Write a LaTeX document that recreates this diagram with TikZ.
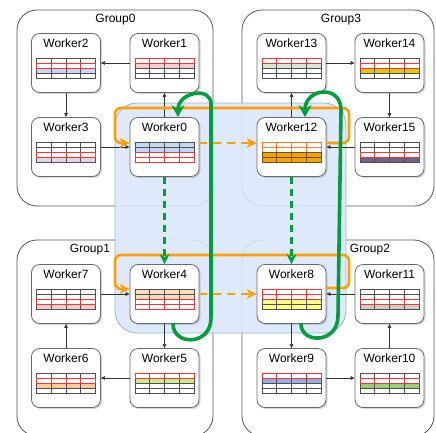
\documentclass[tikz,border=0pt]{standalone}
\usepackage{fontspec}
\setmainfont{Liberation Sans}
\usetikzlibrary{arrows.meta,shadows,calc}
\definecolor{grpline}{RGB}{85,85,85}
\definecolor{wline}{RGB}{105,105,105}
\definecolor{linkc}{RGB}{50,50,50}
\definecolor{tline}{RGB}{80,80,80}
\definecolor{tred}{RGB}{255,51,51}
\definecolor{orng}{RGB}{255,160,0}
\definecolor{grn}{RGB}{0,158,60}
\definecolor{hubfill}{RGB}{218,232,252}
\definecolor{hubline}{RGB}{150,180,225}
\definecolor{cblue}{RGB}{198,217,243}
\definecolor{cpink}{RGB}{248,206,204}
\definecolor{clilac}{RGB}{225,213,231}
\definecolor{cpeach}{RGB}{251,222,193}
\definecolor{clime}{RGB}{205,235,139}
\definecolor{capricot}{RGB}{255,204,153}
\definecolor{cyellow}{RGB}{255,255,136}
\definecolor{cblue9}{RGB}{143,178,230}
\definecolor{cgreen10}{RGB}{151,208,119}
\definecolor{cgray11}{RGB}{204,204,204}
\definecolor{cgreen13}{RGB}{213,232,212}
\definecolor{cyellow14}{RGB}{227,200,0}
\definecolor{cpurple15}{RGB}{118,96,138}
\definecolor{corange12}{RGB}{240,163,10}
\definecolor{corangeline}{RGB}{120,80,0}
\definecolor{corangeout}{RGB}{255,120,50}
\tikzset{
  group/.style={draw=grpline, rounded corners=20pt, line width=0.8pt},
  gtitle/.style={inner sep=0pt, font=\fontsize{12}{14}\selectfont},
  hubregion/.style={draw=hubline, fill=hubfill, fill opacity=0.9, rounded corners=22pt, line width=0.8pt},
  worker/.style={draw=wline, fill=white, rounded corners=8pt, minimum width=69pt, minimum height=59pt, line width=0.8pt,
    drop shadow={shadow xshift=1.6pt, shadow yshift=-1.6pt, opacity=0.3}},
  wtitle/.style={inner sep=0pt, font=\fontsize{12}{14}\selectfont},
  link/.style={draw=linkc, line width=0.6pt, -{Triangle[length=4pt,width=3.5pt]}},
  oloop/.style={draw=orng, line width=2.6pt, rounded corners=6pt, -{Stealth[length=10pt,width=10pt,inset=3pt]}},
  odash/.style={draw=orng, line width=2.6pt, dash pattern=on 8pt off 6pt, -{Stealth[length=10pt,width=10pt,inset=3pt]}},
  gdash/.style={draw=grn, line width=2.8pt, dash pattern=on 7pt off 5pt, -{Stealth[length=10pt,width=10pt,inset=3pt]}},
  gloop/.style={draw=grn, line width=3.6pt, -{Stealth[length=12pt,width=13pt,inset=4pt]}},
}
\newcommand\mkworker[3]{%
  \node[worker] (#1) at (#2) {};
  \node[wtitle] (#1t) at ([yshift=-10.5pt]#1.north) {#3};
}
\newcommand\trow[4]{%
  \draw[fill=#3, draw=#4, line width=0.6pt] ($(#1.north)+(-29.5,{20+5*#2})$) coordinate (tr) rectangle ++(59,5);
  \foreach \k in {1,2,3}{\draw[draw=#4, line width=0.6pt] ($(tr)+({\k*14.75},0)$) -- ++(0,5);}%
}
\begin{document}
\begin{tikzpicture}[x=1pt,y=-1pt]
\useasboundingbox (0,0) rectangle (436,432);
\clip (0,0) rectangle (436,432);
% groups
\node[group, minimum width=196pt, minimum height=196pt] (g0) at (115,108) {};
\node[group, minimum width=192pt, minimum height=196pt] (g3) at (338,108) {};
\node[group, minimum width=196pt, minimum height=196pt] (g1) at (115,338) {};
\node[group, minimum width=192pt, minimum height=196pt] (g2) at (338,338) {};
\node[gtitle] (g0t) at (115.5,20) {Group0};
\node[gtitle] (g3t) at (341,20) {Group3};
\node[gtitle] (g1t) at (90,249.5) {Group1};
\node[gtitle] (g2t) at (370,249.5) {Group2};
% central region
\node[hubregion, minimum width=231pt, minimum height=230pt] (hub) at (230.5,218) {};
% workers
\mkworker{w2}{66,63}{Worker2}
\mkworker{w1}{164.5,63}{Worker1}
\mkworker{w3}{66,147}{Worker3}
\mkworker{w0}{164.5,147}{Worker0}
\mkworker{w13}{291.5,63}{Worker13}
\mkworker{w14}{389.5,63}{Worker14}
\mkworker{w12}{291.5,147}{Worker12}
\mkworker{w15}{389.5,147}{Worker15}
\mkworker{w7}{66,294}{Worker7}
\mkworker{w4}{164.5,294}{Worker4}
\mkworker{w6}{66,378}{Worker6}
\mkworker{w5}{164.5,378}{Worker5}
\mkworker{w8}{291.5,294}{Worker8}
\mkworker{w11}{389.5,294}{Worker11}
\mkworker{w9}{291.5,378}{Worker9}
\mkworker{w10}{389.5,378}{Worker10}
% tables
\trow{w0}{1}{cblue}{tline}\trow{w0}{2}{cblue}{tline}\trow{w0}{3}{white}{tred}\trow{w0}{4}{white}{tred}
\trow{w1}{2}{cpink}{tline}\trow{w1}{3}{white}{tline}\trow{w1}{4}{white}{tline}\trow{w1}{1}{white}{tred}
\trow{w2}{1}{white}{tline}\trow{w2}{3}{cblue}{tline}\trow{w2}{4}{white}{tline}\trow{w2}{2}{white}{tred}
\trow{w3}{1}{white}{tline}\trow{w3}{2}{white}{tline}\trow{w3}{4}{clilac}{tline}\trow{w3}{3}{white}{tred}
\trow{w12}{1}{white}{corangeout}\trow{w12}{2}{white}{corangeout}\trow{w12}{3}{corange12}{corangeline}\trow{w12}{4}{corange12}{corangeline}
\trow{w13}{2}{cgreen13}{tline}\trow{w13}{3}{white}{tline}\trow{w13}{4}{white}{tline}\trow{w13}{1}{white}{tred}
\trow{w14}{1}{white}{tline}\trow{w14}{3}{cyellow14}{tline}\trow{w14}{4}{white}{tline}\trow{w14}{2}{white}{tred}
\trow{w15}{1}{white}{tline}\trow{w15}{2}{white}{tline}\trow{w15}{4}{cpurple15}{tline}\trow{w15}{3}{white}{tred}
\trow{w4}{1}{cpeach}{tline}\trow{w4}{2}{cpeach}{tline}\trow{w4}{3}{white}{tred}\trow{w4}{4}{white}{tred}
\trow{w5}{2}{clime}{tline}\trow{w5}{3}{white}{tline}\trow{w5}{4}{white}{tline}\trow{w5}{1}{white}{tred}
\trow{w6}{1}{white}{tline}\trow{w6}{3}{capricot}{tline}\trow{w6}{4}{white}{tline}\trow{w6}{2}{white}{tred}
\trow{w7}{1}{white}{tline}\trow{w7}{2}{white}{tline}\trow{w7}{4}{cpink}{tline}\trow{w7}{3}{white}{tred}
\trow{w8}{3}{cyellow}{tline}\trow{w8}{4}{cyellow}{tline}\trow{w8}{1}{white}{tred}\trow{w8}{2}{white}{tred}
\trow{w9}{2}{cblue9}{tline}\trow{w9}{3}{white}{tline}\trow{w9}{4}{white}{tline}\trow{w9}{1}{white}{tred}
\trow{w10}{1}{white}{tline}\trow{w10}{3}{cgreen10}{tline}\trow{w10}{4}{white}{tline}\trow{w10}{2}{white}{tred}
\trow{w11}{1}{white}{tline}\trow{w11}{2}{white}{tline}\trow{w11}{4}{cgray11}{tline}\trow{w11}{3}{white}{tred}
% intra-group ring links
\draw[link] (w1.west) -- (w2.east);
\draw[link] (w2.south) -- (w3.north);
\draw[link] (w3.east) -- (w0.west);
\draw[link] (w0.north) -- (w1.south);
\draw[link] (w13.east) -- (w14.west);
\draw[link] (w14.south) -- (w15.north);
\draw[link] (w15.west) -- (w12.east);
\draw[link] (w12.north) -- (w13.south);
\draw[link] (w4.south) -- (w5.north);
\draw[link] (w5.west) -- (w6.east);
\draw[link] (w6.north) -- (w7.south);
\draw[link] (w7.east) -- (w4.west);
\draw[link] (w8.south) -- (w9.north);
\draw[link] (w9.east) -- (w10.west);
\draw[link] (w10.north) -- (w11.south);
\draw[link] (w11.west) -- (w8.east);
% orange rings
\coordinate (oa1) at (349,108);
\coordinate (oa2) at (115,143);
\draw[oloop] ([yshift=4pt]w12.east) -| (oa1) -| (oa2) -- ([yshift=4pt]w0.west);
\draw[odash] ([yshift=4pt]w0.east) -- ([yshift=4pt]w12.west);
\coordinate (ob1) at (349,255);
\coordinate (ob2) at (115,289);
\draw[oloop] ([yshift=6pt]w8.east) -| (ob1) -| (ob2) -- ([yshift=5pt]w4.west);
\draw[odash] (w4.east) -- (w8.west);
% green
\draw[gdash] (w0.south) -- (w4.north);
\draw[gdash] (w12.south) -- (w8.north);
\coordinate (gl1) at (211,318);
\coordinate (gl2) at (211,104);
\draw[gloop] ([xshift=8.5pt]w4.south) .. controls +(0,22) and +(0,28) .. (gl1) -- (gl2) .. controls +(0,-18) and +(0,-25) .. ([xshift=13.5pt]w0.north);
\coordinate (gr1) at (338,316);
\coordinate (gr2) at (341,110);
\draw[gloop] ([xshift=9.5pt]w8.south) .. controls +(0,20) and +(0,28) .. (gr1) -- (gr2) .. controls +(0,-26) and +(0,-29) .. ([xshift=13.5pt]w12.north);
\end{tikzpicture}
\end{document}
